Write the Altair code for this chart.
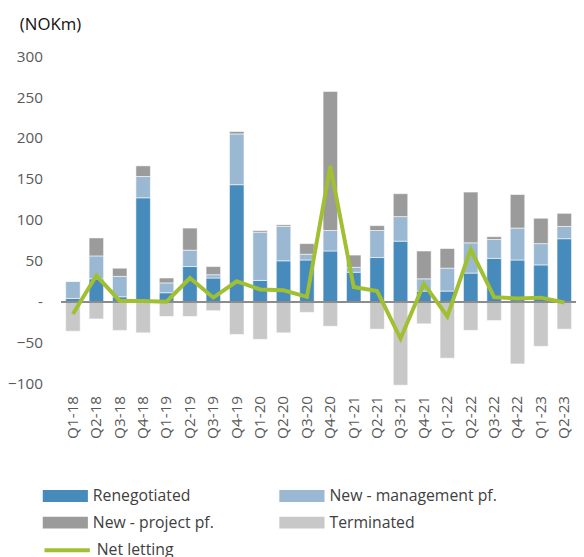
import altair as alt
import pandas as pd

quarters = ["Q1-18", "Q2-18", "Q3-18", "Q4-18", "Q1-19", "Q2-19", "Q3-19", "Q4-19",
            "Q1-20", "Q2-20", "Q3-20", "Q4-20", "Q1-21", "Q2-21", "Q3-21", "Q4-21",
            "Q1-22", "Q2-22", "Q3-22", "Q4-22", "Q1-23", "Q2-23"]
renegotiated = [4, 28, 6, 127, 11, 43, 29, 143, 26, 50, 51, 62, 36, 54, 74, 13, 13, 35, 53, 51, 45, 77]
new_mgmt = [21, 28, 25, 26, 12, 20, 4, 62, 59, 42, 7, 25, 6, 33, 30, 15, 28, 37, 23, 39, 26, 15]
new_project = [0, 22, 10, 13, 6, 27, 10, 3, 2, 2, 13, 170, 15, 6, 28, 34, 24, 62, 3.5, 41, 31, 16]
terminated = [-36, -21, -35, -38, -18, -18, -11, -40, -46, -38, -13, -30, -1, -33.5, -102, -27, -69, -35, -23, -76, -54.5, -33.5]
net_letting = [-15, 32, 1, 1, 0, 29, 5, 25, 15, 14, 6, 166, 18, 13, -45, 22, -18, 64, 5.6, 4, 5, -1]

series_names = ["Renegotiated", "New - management pf.", "New - project pf.", "Terminated"]
series_colors = ["#468bbb", "#9bb8d3", "#9b9b9b", "#c8c8c8"]
series_values = [renegotiated, new_mgmt, new_project, terminated]
# legend fills columns first: order so that rows read as in the reference
legend_order = [0, 2, 1, 3]

rows = []
for si, (name, vals) in enumerate(zip(series_names, series_values)):
    for q, v in zip(quarters, vals):
        rows.append({"quarter": q, "series": name, "value": v, "order": si})
bars_df = pd.DataFrame(rows)
line_df = pd.DataFrame({"quarter": quarters, "net": net_letting, "series": "Net letting"})

FONT = "Open Sans"
x_enc = alt.X("quarter:N", sort=quarters,
              scale=alt.Scale(paddingInner=0.38, paddingOuter=0.19),
              axis=alt.Axis(title=None, labelAngle=-90, labelFont=FONT, labelFontSize=15.5,
                            labelColor="#595959", ticks=False, domain=False, labelPadding=12))

bars = alt.Chart(bars_df).mark_bar(stroke="#ffffff", strokeWidth=0.8, strokeOpacity=0.7).encode(
    x=x_enc,
    y=alt.Y("value:Q", stack="zero",
            scale=alt.Scale(domain=[-100, 300], nice=False),
            axis=alt.Axis(title=None, values=list(range(-100, 301, 50)), grid=False,
                          ticks=False, domain=False, labelFont=FONT, labelFontSize=15.5,
                          labelColor="#595959", labelPadding=19,
                          labelExpr="datum.value == 0 ? '-\u00a0\u00a0' : datum.label")),
    color=alt.Color("series:N",
                    scale=alt.Scale(domain=[series_names[i] for i in legend_order],
                                    range=[series_colors[i] for i in legend_order]),
                    legend=alt.Legend(title=None, orient="none", legendX=-19, legendY=436,
                                      columns=2, columnPadding=66, rowPadding=7,
                                      clipHeight=20,
                                      symbolType="M-1,-0.26H1V0.26H-1Z", symbolSize=2116,
                                      symbolStrokeWidth=0, symbolOpacity=1,
                                      labelFont=FONT, labelFontSize=16, labelColor="#404040",
                                      labelOffset=5, padding=0, labelLimit=300)),
    order=alt.Order("order:Q"),
)

zero = alt.Chart(line_df).mark_rule(color="#8c8c8c", strokeWidth=1.5).encode(y=alt.datum(0))

line = alt.Chart(line_df).mark_line(strokeWidth=4, strokeJoin="miter").encode(
    x=alt.X("quarter:N", sort=quarters),
    y=alt.Y("net:Q"),
    stroke=alt.Stroke("series:N",
                      scale=alt.Scale(domain=["Net letting"], range=["#a0c032"]),
                      legend=alt.Legend(title=None, orient="none", legendX=-19, legendY=476,
                                        symbolType="stroke", symbolSize=2116,
                                        symbolStrokeWidth=4, labelFont=FONT, labelFontSize=16,
                                        labelColor="#404040", labelOffset=5, padding=0)),
)

chart = alt.layer(bars, zero, line).resolve_scale(color="independent").properties(
    width=522, height=332,
    autosize=alt.AutoSizeParams(type="none"),
    padding={"left": 54, "top": 45, "right": 0, "bottom": 172},
    title=alt.TitleParams("(NOKm)", anchor="start", frame="group", dx=-42, dy=0,
                          font=FONT, fontSize=17, fontWeight="normal", color="#111111",
                          offset=16),
).configure_view(stroke=None)

chart.save("out.html", embed_options={"renderer": "svg", "actions": False})
